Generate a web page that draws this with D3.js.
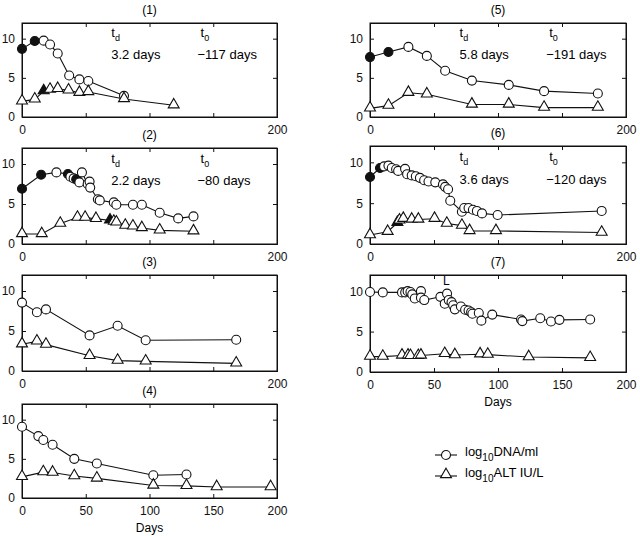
<!DOCTYPE html>
<html>
<head>
<meta charset="utf-8">
<script src="https://cdn.jsdelivr.net/npm/d3@7"></script>
<style>
  body { margin: 0; background: #fff; }
  svg { font-family: "Liberation Sans", Arial, sans-serif; }
  .tick text { font-size: 12px; }
</style>
</head>
<body>
<div id="chart"></div>
<script>
// panel titles and kinetics values
var panelNames = ["(1)", "(2)", "(3)", "(4)", "(5)", "(6)", "(7)"];
var tdText = ["3.2 days", "2.2 days", null, null, "5.8 days", "3.6 days", null];
var t0Text = ["\u2212117 days", "\u221280 days", null, null, "\u2212191 days", "\u2212120 days", null];

// panel 1
var p1DnaDays = [0, 10, 17, 22, 28, 37, 45, 52, 80];
var p1Dna     = [8.7, 9.7, 9.75, 9.25, 8.1, 5.3, 4.8, 4.6, 2.7];
var p1DnaFill = [1, 1, 0, 0, 0, 0, 0, 0, 0];
var p1AltDays = [0, 10, 17, 22, 28, 36.5, 45, 52, 80, 119];
var p1Alt     = [2.0, 2.25, 3.3, 3.5, 3.6, 3.4, 3.1, 3.2, 2.3, 1.5];
var p1AltFill = [0, 0, 1, 0, 0, 0, 0, 0, 0, 0];

// panel 2
var p2DnaDays = [0, 15, 27, 36, 38, 40.5, 42.5, 45, 47, 51.5, 53, 53.5, 59.5, 61, 72, 74, 87, 94, 108, 122.5, 134.5];
var p2Dna     = [6.9, 8.65, 8.95, 8.75, 8.4, 8.2, 8.1, 7.7, 8.95, 7.5, 7.8, 7.05, 5.6, 5.45, 5.2, 4.9, 4.9, 4.9, 3.9, 3.2, 3.45];
var p2DnaFill = [1, 1, 0, 1, 0, 0, 1, 0, 0, 0, 0, 0, 0, 0, 0, 0, 0, 0, 0, 0, 0];
var p2AltDays = [0, 15.5, 30, 43.5, 49.5, 58, 69, 72, 74, 81, 87, 94, 108, 134.5];
var p2Alt     = [1.25, 1.25, 2.55, 3.3, 3.3, 3.15, 2.95, 2.8, 2.7, 2.3, 2.2, 2.0, 1.7, 1.6];
var p2AltFill = [0, 0, 0, 0, 0, 0, 1, 0, 0, 0, 0, 0, 0, 0];

// panel 3
var p3DnaDays = [0, 11.7, 18.8, 53, 75, 97, 168];
var p3Dna     = [8.55, 7.35, 7.7, 4.45, 5.65, 3.85, 3.9];
var p3AltDays = [0, 11.7, 18.8, 53, 75, 97, 168];
var p3Alt     = [3.35, 3.7, 3.3, 1.9, 1.3, 1.2, 0.95];

// panel 4
var p4DnaDays = [0, 12.8, 16.7, 24, 41, 58.7, 103, 129];
var p4Dna     = [9.1, 7.9, 7.4, 6.8, 5.0, 4.4, 2.9, 3.0];
var p4AltDays = [0, 16.7, 24, 41, 58.7, 103, 129, 152.7, 195];
var p4Alt     = [2.7, 3.3, 3.25, 2.8, 2.5, 1.6, 1.55, 1.4, 1.4];

// panel 5
var p5DnaDays = [0, 14.4, 30, 44.4, 58.7, 79.6, 108.4, 136, 178];
var p5Dna     = [7.65, 8.3, 8.95, 7.8, 5.9, 4.65, 4.1, 3.3, 3.0];
var p5DnaFill = [1, 1, 0, 0, 0, 0, 0, 0, 0];
var p5AltDays = [0, 14.4, 30, 44.4, 79.6, 108.4, 136, 178];
var p5Alt     = [1.1, 1.45, 3.1, 2.9, 1.6, 1.6, 1.2, 1.2];

// panel 6
var p6DnaDays = [0, 7.8, 11, 14.4, 17, 20.4, 22, 27.4, 29, 32.6, 35.8, 39, 42.3, 45.7, 51, 57, 58.7, 61, 62.7, 71.8, 73.6, 77, 80.4, 83.5, 87.5, 99.7, 181];
var p6Dna     = [8.2, 9.3, 9.5, 9.6, 9.3, 9.15, 8.95, 9.2, 8.55, 8.4, 8.3, 8.1, 7.8, 7.65, 7.55, 7.3, 7.0, 6.7, 5.3, 3.95, 4.4, 4.4, 4.2, 4.05, 3.75, 3.55, 4.05];
var p6DnaFill = [1, 1, 0, 0, 0, 0, 0, 0, 0, 0, 0, 0, 0, 0, 0, 0, 0, 0, 0, 0, 0, 0, 0, 0, 0, 0, 0];
var p6AltDays = [0, 13.8, 21.4, 23, 26, 32.6, 37.8, 50.4, 60, 71.8, 77.8, 98.4, 181];
var p6Alt     = [1.1, 1.5, 2.6, 2.9, 3.1, 3.0, 3.0, 3.1, 2.5, 2.25, 1.6, 1.6, 1.4];
var p6AltFill = [0, 0, 1, 0, 0, 0, 0, 0, 0, 0, 0, 0, 0];

// panel 7
var p7DnaDays = [0, 10, 25, 27.5, 29.4, 31.6, 33, 35, 39.8, 39.8, 42.4, 55, 58.4, 60.2, 61.5, 63.7, 65, 66.3, 71, 74.3, 77, 79, 80, 85, 87, 95.5, 118, 119, 133, 141.4, 148, 172];
var p7Dna     = [9.9, 9.85, 9.85, 9.85, 10.0, 9.9, 9.6, 9.1, 10.0, 9.2, 8.9, 9.3, 8.45, 9.7, 8.9, 8.65, 8.25, 7.75, 8.1, 7.7, 7.6, 7.4, 7.2, 7.3, 6.35, 7.1, 6.5, 6.3, 6.65, 6.25, 6.45, 6.5];
var p7AltDays = [0, 10, 25, 29.7, 31.6, 37.7, 39.8, 58.4, 66.3, 86, 92, 124, 172];
var p7Alt     = [1.9, 1.9, 2.05, 2.05, 2.0, 2.0, 2.05, 2.25, 2.1, 2.2, 2.15, 1.85, 1.75];

var xTicks = [0, 50, 100, 150, 200];
var yTicks = [0, 5, 10];

function pts(days, vals, fill) {
  return days.map(function(d, i) { return { d: d, v: vals[i], f: fill ? fill[i] : 0 }; });
}

var panels = [
  { dna: pts(p1DnaDays, p1Dna, p1DnaFill), alt: pts(p1AltDays, p1Alt, p1AltFill) },
  { dna: pts(p2DnaDays, p2Dna, p2DnaFill), alt: pts(p2AltDays, p2Alt, p2AltFill) },
  { dna: pts(p3DnaDays, p3Dna), alt: pts(p3AltDays, p3Alt) },
  { dna: pts(p4DnaDays, p4Dna), alt: pts(p4AltDays, p4Alt) },
  { dna: pts(p5DnaDays, p5Dna, p5DnaFill), alt: pts(p5AltDays, p5Alt) },
  { dna: pts(p6DnaDays, p6Dna, p6DnaFill), alt: pts(p6AltDays, p6Alt, p6AltFill) },
  { dna: pts(p7DnaDays, p7Dna), alt: pts(p7AltDays, p7Alt) }
];

// box layout of each panel: left, right, top, bottom (pixels)
var boxes = [
  [22, 277, 23, 117], [22, 277, 148, 244], [22, 277, 275, 371], [22, 277, 404, 498],
  [370, 626, 23, 117], [370, 626, 146, 244], [370, 626, 275, 372]
];
var fullTicks = [false, false, false, true, false, false, true];

var svg = d3.select("#chart").append("svg")
    .attr("width", 640)
    .attr("height", 536);

var tri = d3.symbol().type(d3.symbolTriangle).size(52);

panels.forEach(function(p, k) {
  var b = boxes[k];
  var x = d3.scaleLinear().domain([0, 200]).range([b[0], b[1]]);
  var y = d3.scaleLinear().domain([0, 12]).range([b[3], b[2]]);
  var g = svg.append("g");

  // title
  g.append("text")
      .attr("x", (b[0] + b[1]) / 2)
      .attr("y", b[2] - 9)
      .attr("text-anchor", "middle")
      .style("font-size", "12px")
      .text(panelNames[k]);

  // axes with inward ticks, MATLAB style
  var xa = d3.axisBottom(x).tickValues(xTicks).tickSize(-4).tickPadding(8)
      .tickFormat(function(d) { return (fullTicks[k] || d === 0 || d === 200) ? d : ""; });
  g.append("g").attr("transform", "translate(0," + b[3] + ")").call(xa);
  g.append("g").attr("transform", "translate(0," + b[2] + ")")
      .call(d3.axisTop(x).tickValues(xTicks).tickSize(-4).tickFormat(""));
  g.append("g").attr("transform", "translate(" + b[0] + ",0)")
      .call(d3.axisLeft(y).tickValues(yTicks).tickSize(-4).tickPadding(7));
  g.append("g").attr("transform", "translate(" + b[1] + ",0)")
      .call(d3.axisRight(y).tickValues(yTicks).tickSize(-4).tickFormat(""));
  g.selectAll(".domain").attr("stroke", "#111");
  g.selectAll(".tick line").attr("stroke", "#111");
  g.selectAll(".tick text").attr("fill", "#111");
  g.append("rect")
      .attr("x", b[0]).attr("y", b[2])
      .attr("width", b[1] - b[0]).attr("height", b[3] - b[2])
      .attr("fill", "none").attr("stroke", "#111");

  var line = d3.line().x(function(d) { return x(d.d); }).y(function(d) { return y(d.v); });

  g.append("path").datum(p.dna).attr("d", line)
      .attr("fill", "none").attr("stroke", "#111").attr("stroke-width", 1.1);
  g.append("path").datum(p.alt).attr("d", line)
      .attr("fill", "none").attr("stroke", "#111").attr("stroke-width", 1.1);

  g.selectAll(".dna").data(p.dna).enter().append("circle")
      .attr("cx", function(d) { return x(d.d); })
      .attr("cy", function(d) { return y(d.v); })
      .attr("r", 4.5)
      .attr("fill", function(d) { return d.f ? "#111" : "#fff"; })
      .attr("stroke", "#111").attr("stroke-width", 1.1);

  g.selectAll(".alt").data(p.alt).enter().append("path")
      .attr("d", tri)
      .attr("transform", function(d) { return "translate(" + x(d.d) + "," + (y(d.v) - 0.5) + ")"; })
      .attr("fill", function(d) { return d.f ? "#111" : "#fff"; })
      .attr("stroke", "#111").attr("stroke-width", 1.1);

  // doubling time and t0 annotations
  if (tdText[k]) {
    var tx = x(70), t0x = x(140);
    var ty = y(10.15);
    var a = g.append("text").attr("x", tx).attr("y", ty).style("font-size", "13px");
    a.append("tspan").text("t");
    a.append("tspan").attr("dy", 4).style("font-size", "9px").text("d");
    var c = g.append("text").attr("x", t0x).attr("y", ty).style("font-size", "13px");
    c.append("tspan").text("t");
    c.append("tspan").attr("dy", 4).style("font-size", "9px").text("0");
    g.append("text").attr("x", tx).attr("y", y(7.35)).style("font-size", "13px").text(tdText[k]);
    g.append("text").attr("x", t0x - 3).attr("y", y(7.35)).style("font-size", "13px").text(t0Text[k]);
  }

  if (fullTicks[k]) {
    g.append("text")
        .attr("x", (b[0] + b[1]) / 2)
        .attr("y", b[3] + 34)
        .attr("text-anchor", "middle")
        .style("font-size", "12px")
        .text("Days");
  }
  if (k === 6) {
    g.append("text").attr("x", x(57)).attr("y", y(10.75))
        .style("font-size", "12px").text("L");
  }
});

// legend
var legendItems = ["DNA/ml", "ALT IU/L"];
var lg = svg.append("g").attr("transform", "translate(435,455)");
legendItems.forEach(function(name, i) {
  var row = lg.append("g").attr("transform", "translate(0," + (i * 21) + ")");
  row.append("line").attr("x1", 0).attr("x2", 22).attr("y1", 0).attr("y2", 0)
      .attr("stroke", "#111").attr("stroke-width", 1.1);
  if (i === 0) {
    row.append("circle").attr("cx", 11).attr("cy", 0).attr("r", 4.5)
        .attr("fill", "#fff").attr("stroke", "#111").attr("stroke-width", 1.1);
  } else {
    row.append("path").attr("d", tri).attr("transform", "translate(11,-1.5)")
        .attr("fill", "#fff").attr("stroke", "#111").attr("stroke-width", 1.1);
  }
  var t = row.append("text").attr("x", 30).attr("y", 1).style("font-size", "13px");
  t.append("tspan").text("log");
  t.append("tspan").attr("dy", 5).style("font-size", "10px").text("10");
  t.append("tspan").attr("dy", -5).text(name);
});
</script>
</body>
</html>
